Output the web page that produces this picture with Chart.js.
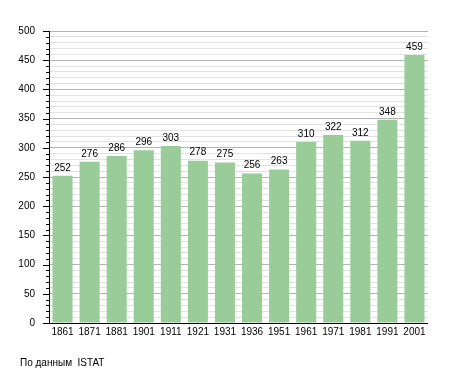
<!DOCTYPE html>
<html>
<head>
<meta charset="utf-8">
<script src="https://cdn.jsdelivr.net/npm/chart.js@4.4.1/dist/chart.umd.min.js"></script>
<style>
html,body{margin:0;padding:0;background:#fff;}
#wrap{width:455px;height:373px;}
</style>
</head>
<body>
<div id="wrap"><canvas id="c" width="455" height="373"></canvas></div>
<script>
const years = ['1861','1871','1881','1901','1911','1921','1931','1936','1951','1961','1971','1981','1991','2001'];
const population = [252,276,286,296,303,278,275,256,263,310,322,312,348,459];
const yMin = 0, yMax = 500, yMajorStep = 50, yMinorStep = 10;
const sourceNote = 'По данным  ISTAT';

const FONT = '"Liberation Sans", Arial, sans-serif';

const tickMarks = {
  id: 'tickMarks',
  afterDraw(chart) {
    const ctx = chart.ctx, y = chart.scales.y, area = chart.chartArea;
    ctx.save();
    ctx.strokeStyle = '#000';
    ctx.lineWidth = 1;
    for (let v = yMin; v <= yMax; v += yMinorStep) {
      const py = Math.round(y.getPixelForValue(v)) + 0.5;
      const len = (v % yMajorStep === 0) ? 6 : 3;
      ctx.beginPath();
      ctx.moveTo(area.left - len, py);
      ctx.lineTo(area.left, py);
      ctx.stroke();
    }
    // axes lines
    ctx.beginPath();
    ctx.moveTo(Math.round(area.left) + 0.5, area.top);
    ctx.lineTo(Math.round(area.left) + 0.5, Math.round(area.bottom) + 1);
    ctx.moveTo(area.left, Math.round(area.bottom) + 0.5);
    ctx.lineTo(area.right, Math.round(area.bottom) + 0.5);
    ctx.stroke();
    // source note
    ctx.fillStyle = '#000';
    ctx.font = '10px ' + FONT;
    ctx.textAlign = 'left';
    ctx.textBaseline = 'alphabetic';
    ctx.fillText(sourceNote, 20, 366);
    ctx.restore();
  }
};

const valueLabels = {
  id: 'valueLabels',
  afterDatasetsDraw(chart) {
    const ctx = chart.ctx;
    const meta = chart.getDatasetMeta(0);
    ctx.save();
    ctx.fillStyle = '#000';
    ctx.font = '10px ' + FONT;
    ctx.textAlign = 'center';
    ctx.textBaseline = 'bottom';
    meta.data.forEach((bar, i) => {
      ctx.fillText(String(population[i]), bar.x, bar.y - 3);
    });
    ctx.restore();
  }
};

new Chart(document.getElementById('c'), {
  type: 'bar',
  data: {
    labels: years,
    datasets: [{
      data: population,
      backgroundColor: '#99cc99',
      borderWidth: 0,
      barPercentage: 0.74,
      categoryPercentage: 1.0
    }]
  },
  options: {
    responsive: false,
    animation: false,
    layout: { padding: { top: 31, right: 27, bottom: 0, left: 0 } },
    plugins: { legend: { display: false }, tooltip: { enabled: false } },
    scales: {
      x: {
        offset: true,
        grid: { display: false, drawTicks: false },
        border: { display: false },
        ticks: { color: '#000', font: { family: FONT, size: 10 }, padding: 3, maxRotation: 0, autoSkip: false },
        afterFit(s) { s.height = 50; }
      },
      y: {
        min: yMin, max: yMax,
        grid: {
          drawTicks: false,
          color(ctx) { return (ctx.tick && ctx.tick.value % yMajorStep === 0) ? '#b4b4b4' : '#e2e2e2'; }
        },
        border: { display: false },
        ticks: {
          stepSize: yMinorStep,
          autoSkip: false,
          color: '#000',
          font: { family: FONT, size: 10 },
          padding: 14,
          callback(v) { return v % yMajorStep === 0 ? String(v) : ''; }
        },
        afterFit(s) { s.width = 49; }
      }
    }
  },
  plugins: [tickMarks, valueLabels]
});
</script>
</body>
</html>
